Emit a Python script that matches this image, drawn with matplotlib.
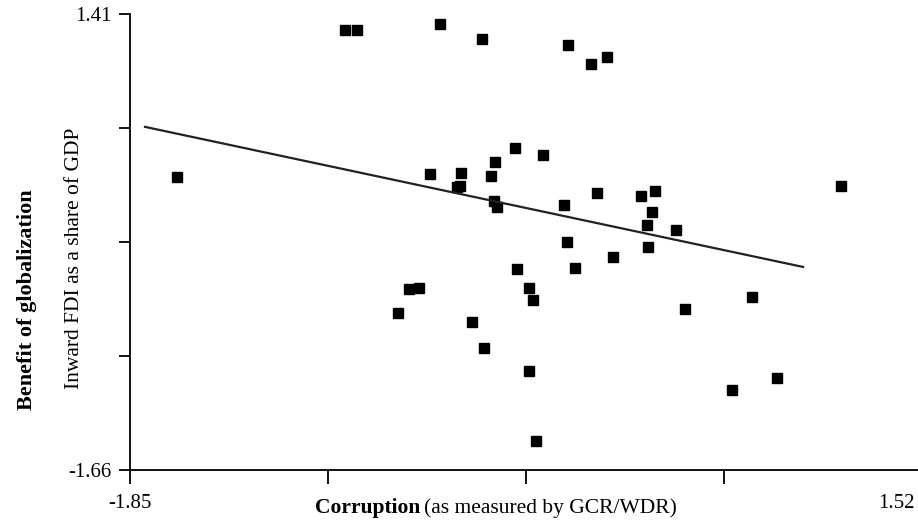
import numpy as np
import matplotlib
matplotlib.use('Agg')
from matplotlib import pyplot as plt
from matplotlib.transforms import blended_transform_factory

# corruption score (x) vs inward FDI share of GDP (y)
corruption = [-1.650, -0.935, -0.884, -0.531, -0.352, 0.014, 0.112, 0.180, 1.176,
              -0.212, -0.093, -0.297, -0.573, -0.441, -0.314, -0.459, -0.446,
              -0.301, -0.288, -0.003, 0.137, 0.324, 0.384, 0.371, 0.350, 0.473,
              0.010, 0.354, 0.205, -0.203, 0.044,
              -0.663, -0.620, -0.710, -0.152, -0.135, -0.395, -0.344, -0.152,
              -0.122, 0.512, 0.797, 0.712, 0.903]
fdi = [0.313, 1.303, 1.303, 1.343, 1.242, 1.202, 1.074, 1.121, 0.252,
       0.508, 0.461, 0.414, 0.333, 0.340, 0.320, 0.246, 0.252,
       0.151, 0.111, 0.125, 0.205, 0.185, 0.219, 0.077, -0.010, -0.044,
       -0.125, -0.158, -0.226, -0.306, -0.300,
       -0.441, -0.434, -0.603, -0.434, -0.515, -0.663, -0.838, -0.993,
       -1.465, -0.576, -0.495, -1.121, -1.040]

# fitted line end points
fit_x = [-1.786, 1.014]
fit_y = [0.650, -0.293]

x_min, x_max = -1.85, 1.52
y_min, y_max = -1.66, 1.41

plt.rcParams['font.family'] = ['Liberation Serif', 'DejaVu Serif']

fig = plt.figure(figsize=(9.18, 5.22), dpi=100)
ax = fig.add_axes([130 / 918, 52 / 522, 792 / 918, 456 / 522])

ax.plot(corruption, fdi, 's', color='black', markersize=7.2, clip_on=False)
ax.plot(fit_x, fit_y, color='#222222', linewidth=1.6)

ax.set_xlim(x_min, x_max)
ax.set_ylim(y_min, y_max)

for s in ['top', 'right']:
    ax.spines[s].set_visible(False)
for s in ['left', 'bottom']:
    ax.spines[s].set_linewidth(1.3)

ax.set_xticks(np.linspace(x_min, x_max, 5))
ax.set_xticklabels([])
ax.set_yticks(np.linspace(y_min, y_max, 5))
ax.set_yticklabels(['-1.66', '', '', '', '1.41'])
ax.tick_params(axis='x', direction='out', length=10, width=1.3)
ax.tick_params(axis='y', direction='out', length=8, width=1.3, labelsize=15, pad=5)

# only end labels on x; the axis runs past the right edge, so the last one is pulled in
tick_y = 1 - 503 / 522
tr = blended_transform_factory(ax.transData, fig.transFigure)
ax.text(x_min, tick_y, '-1.85', transform=tr, fontsize=15, ha='center', va='center')
fig.text(915 / 918, tick_y, '1.52', fontsize=15, ha='right', va='center')

fig.text(27 / 918, 1 - 300 / 522, 'Benefit of globalization', rotation=90, fontsize=16,
         fontweight='bold', ha='center', va='center')
fig.text(75 / 918, 1 - 258 / 522, 'Inward FDI as a share of GDP', rotation=90, fontsize=15.5,
         ha='center', va='center')

lab_y = 1 - 508 / 522
t1 = fig.text(315 / 918, lab_y, 'Corruption', fontsize=15.5, fontweight='bold',
              ha='left', va='center')
fig.canvas.draw()
bb = t1.get_window_extent()
fig.text((bb.x1 + 4) / 918, lab_y, '(as measured by GCR/WDR)', fontsize=15.5,
         ha='left', va='center')

plt.savefig('out.png', dpi=100)
